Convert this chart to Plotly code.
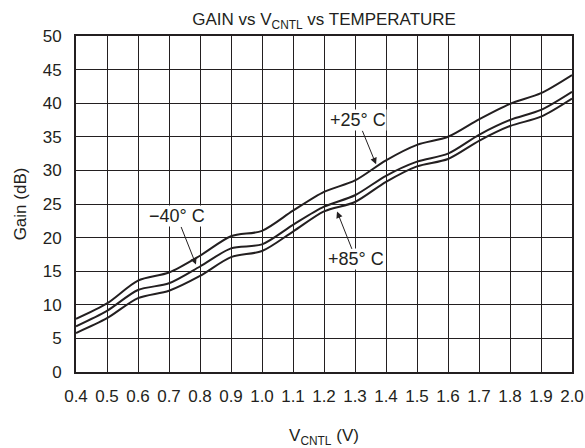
import plotly.graph_objects as go

v_cntl = [0.4, 0.5, 0.6, 0.7, 0.8, 0.9, 1.0, 1.1, 1.2, 1.3, 1.4, 1.5, 1.6, 1.7, 1.8, 1.9, 2.0]
gain_p25 = [7.9, 10.2, 13.6, 14.8, 17.3, 20.2, 21.0, 24.0, 26.8, 28.5, 31.5, 33.8, 35.0, 37.6, 39.9, 41.5, 44.2]
gain_m40 = [6.8, 9.1, 12.2, 13.2, 15.7, 18.4, 19.0, 21.9, 24.6, 26.3, 29.2, 31.3, 32.5, 35.3, 37.5, 39.0, 41.7]
gain_p85 = [5.8, 8.0, 11.0, 12.1, 14.3, 17.1, 18.0, 20.9, 23.9, 25.3, 28.3, 30.6, 31.7, 34.4, 36.6, 38.0, 40.7]

x_ticks = [0.4, 0.5, 0.6, 0.7, 0.8, 0.9, 1.0, 1.1, 1.2, 1.3, 1.4, 1.5, 1.6, 1.7, 1.8, 1.9, 2.0]
x_tick_labels = ["0.4", "0.5", "0.6", "0.7", "0.8", "0.9", "1.0", "1.1", "1.2", "1.3",
                 "1.4", "1.5", "1.6", "1.7", "1.8", "1.9", "2.0"]
y_ticks = [0, 5, 10, 15, 20, 25, 30, 35, 40, 45, 50]

font_fam = "Liberation Sans, Arial, sans-serif"
txt_col = "#231f20"
fs = 17

fig = go.Figure()
for ys in (gain_p25, gain_m40, gain_p85):
    fig.add_trace(go.Scatter(x=v_cntl, y=ys, mode="lines",
                             line=dict(color="#231f20", width=2, shape="spline", smoothing=0.8),
                             showlegend=False, hoverinfo="skip"))

ann = [
    dict(x=1.368, y=30.9, text="+25° C", ax=-18, ay=-44),
    dict(x=0.787, y=16.0, text="−40° C", ax=-19, ay=-48),
    dict(x=1.242, y=23.9, text="+85° C", ax=19, ay=48),
]
for a in ann:
    fig.add_annotation(x=a["x"], y=a["y"], text=a["text"], ax=a["ax"], ay=a["ay"],
                       xref="x", yref="y", showarrow=True, arrowhead=2, arrowsize=1.3,
                       arrowwidth=1, arrowcolor="#231f20", bgcolor="white",
                       font=dict(family=font_fam, size=18, color=txt_col), borderpad=0)

fig.update_layout(
    width=585, height=448,
    margin=dict(l=76, r=13, t=36, b=76, autoexpand=False),
    paper_bgcolor="white", plot_bgcolor="white",
    font=dict(family=font_fam, size=fs, color=txt_col),
    title=dict(text="GAIN vs V<sub>CNTL</sub> vs TEMPERATURE", x=0.554,
               xanchor="center", y=0.957, yanchor="middle",
               font=dict(family=font_fam, size=fs, color=txt_col)),
)
fig.update_xaxes(range=[0.4, 2.0], tickvals=x_ticks, ticktext=x_tick_labels,
                 automargin=False,
                 showgrid=True, gridcolor="#231f20", gridwidth=1,
                 showline=True, linecolor="#231f20", linewidth=2, mirror=True,
                 ticks="outside", ticklen=8, tickcolor="rgba(0,0,0,0)",
                 zeroline=False,
                 tickfont=dict(family=font_fam, size=fs, color=txt_col),
                 title=dict(text="V<sub>CNTL</sub> (V)", standoff=33,
                            font=dict(family=font_fam, size=fs, color=txt_col)))
fig.update_yaxes(range=[0, 50], tickvals=y_ticks,
                 automargin=False,
                 showgrid=True, gridcolor="#231f20", gridwidth=1,
                 showline=True, linecolor="#231f20", linewidth=2, mirror=True,
                 ticks="outside", ticklen=9, tickcolor="rgba(0,0,0,0)",
                 zeroline=False,
                 tickfont=dict(family=font_fam, size=fs, color=txt_col),
                 title=dict(text="Gain (dB)", standoff=12,
                            font=dict(family=font_fam, size=fs, color=txt_col)))

fig.write_html("out.html", config={"displayModeBar": False},
               post_script="document.body.style.margin='0';document.body.style.overflow='hidden';")
